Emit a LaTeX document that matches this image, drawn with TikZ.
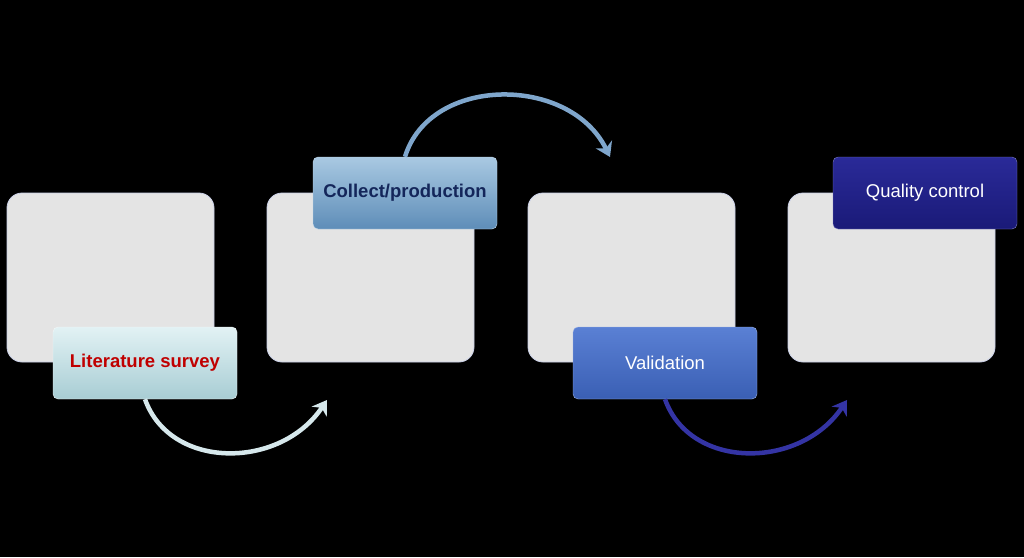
\documentclass[tikz,border=0pt]{standalone}
\usepackage{fontspec}
\setmainfont{Liberation Sans}
\usetikzlibrary{arrows.meta}
\definecolor{boxgray}{HTML}{E4E4E4}
\definecolor{boxedge}{HTML}{C9CFE6}
\definecolor{litTop}{HTML}{E2F2F4}
\definecolor{litBot}{HTML}{A8CDD4}
\definecolor{litText}{HTML}{C00000}
\definecolor{colTop}{HTML}{A9C9E2}
\definecolor{colBot}{HTML}{5E8DB8}
\definecolor{colText}{HTML}{14265A}
\definecolor{valTop}{HTML}{5A80D4}
\definecolor{valBot}{HTML}{3A5FB4}
\definecolor{qcTop}{HTML}{2A2A98}
\definecolor{qcBot}{HTML}{1A1A78}
\definecolor{arrA}{HTML}{D6E8EC}
\definecolor{arrB}{HTML}{7FA6CC}
\definecolor{arrC}{HTML}{3434A4}
\tikzset{
  bigbox/.style={draw=boxedge, line width=0.8pt, fill=boxgray, rounded corners=15pt, minimum width=207pt, minimum height=169pt, inner sep=0pt},
  labelbox/.style={rounded corners=5pt, minimum width=184pt, minimum height=72pt, inner sep=0pt, font=\fontsize{18.5}{22}\selectfont},
  flowarrow/.style={line width=4.5pt, -{Stealth[length=14pt,width=18pt]}}
}
\begin{document}
\begin{tikzpicture}[x=1pt,y=-1pt]
\fill[black] (0,0) rectangle (1024,557);
\useasboundingbox (0,0) rectangle (1024,557);
% big boxes
\node[bigbox] (b1) at (110.5,277.5) {};
\node[bigbox] (b2) at (370.5,277.5) {};
\node[bigbox] (b3) at (631.5,277.5) {};
\node[bigbox] (b4) at (891.5,277.5) {};
% label boxes
\node[labelbox, draw=white!85!litBot, top color=litTop, bottom color=litBot, text=litText, font=\fontsize{18.5}{22}\selectfont\bfseries] (l1) at (145,363) {Literature survey};
\node[labelbox, draw=colTop!70!white, top color=colTop, bottom color=colBot, text=colText, font=\fontsize{18.5}{22}\selectfont\bfseries] (l2) at (405,193) {Collect/production};
\node[labelbox, draw=valTop!60!white, top color=valTop, bottom color=valBot, text=white] (l3) at (665,363) {Validation};
\node[labelbox, draw=qcTop!60!white, top color=qcTop, bottom color=qcBot, text=white] (l4) at (925,193) {Quality control};
% arrow end points
\coordinate (e1) at (327,400);
\coordinate (e2) at (610,157);
\coordinate (e3) at (847,400);
% arrows
\draw[flowarrow, draw=arrA] (l1.south) .. controls (170,470) and (280,470) .. (e1);
\draw[flowarrow, draw=arrB] (l2.north) .. controls (430,75) and (570,75) .. (e2);
\draw[flowarrow, draw=arrC] (l3.south) .. controls (690,470) and (800,470) .. (e3);
\end{tikzpicture}
\end{document}
